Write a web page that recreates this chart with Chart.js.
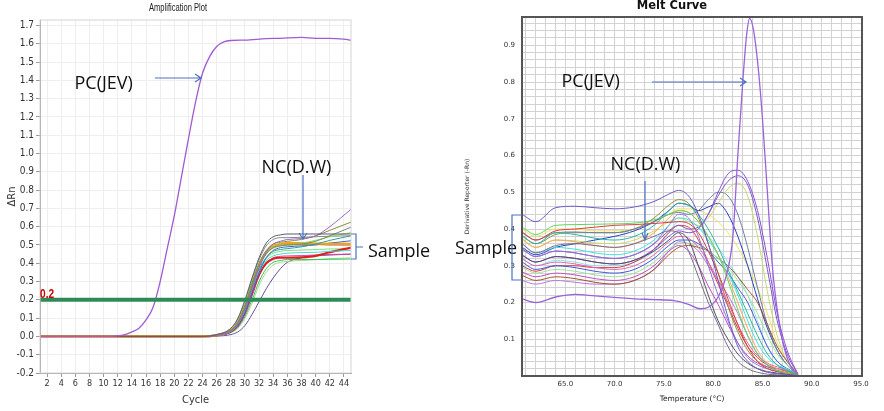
<!DOCTYPE html>
<html>
<head>
<meta charset="utf-8">
<script src="https://cdn.jsdelivr.net/npm/chart.js@4.4.0/dist/chart.umd.min.js"></script>
<style>
  body { margin: 0; background: #fff; width: 884px; height: 411px; position: relative; overflow: hidden; }
  canvas { position: absolute; top: 0; }
  #amp { left: 0; }
  #melt { left: 440px; }
  .lbl { position: absolute; font-family: 'Open Sans', 'Noto Sans', sans-serif; font-size: 18px; line-height: 18px; color: #111; white-space: nowrap; }
  .ttl { position: absolute; white-space: nowrap; transform-origin: center; }
</style>
</head>
<body>
<canvas id="amp" width="440" height="411"></canvas>
<canvas id="melt" width="444" height="411"></canvas>

<div class="ttl" style="left:178px; top:2px; font: 10.5px 'Liberation Sans', Arial, sans-serif; line-height:10.5px; color:#222; transform: translateX(-50%) scaleX(0.72);">Amplification Plot</div>
<div class="ttl" style="left:672px; top:0px; font: bold 11.5px 'DejaVu Sans', sans-serif; line-height:11.5px; color:#111; transform: translateX(-50%);">Melt Curve</div>
<div class="ttl" style="left:40px; top:286.5px; font: bold 13.5px 'Liberation Sans', Arial, sans-serif; line-height:13.5px; color:#cc0000; transform-origin: left; transform: scaleX(0.75);">0.2</div>

<div class="lbl" style="left:74.5px; top:73px;">PC(JEV)</div>
<div class="lbl" style="left:261.5px; top:157px;">NC(D.W)</div>
<div class="lbl" style="left:368px; top:241px;">Sample</div>
<div class="lbl" style="left:561.5px; top:71px;">PC(JEV)</div>
<div class="lbl" style="left:610.5px; top:154px;">NC(D.W)</div>
<div class="lbl" style="left:455px; top:237.5px;">Sample</div>

<svg width="884" height="411" style="position:absolute; left:0; top:0;" fill="none" stroke="#4a72c4" stroke-width="1.2">
  <path d="M155 78H201M195 74L201 78L195 82"/>
  <path d="M303 175V239M299 233L303 239L307 233"/>
  <path d="M351 234H356V259H351M356 247H363"/>
  <path d="M652 82H746M740 78L746 82L740 86"/>
  <path d="M645 181V240M642 233L645 240L648 233"/>
  <path d="M522 215H512V280H522"/>
</svg>

<script>
// ---------- Amplification plot data ----------
const ampYTicks = [-0.2, -0.1, 0.0, 0.1, 0.2, 0.3, 0.4, 0.5, 0.6, 0.7, 0.8, 0.9, 1.0, 1.1, 1.2, 1.3, 1.4, 1.5, 1.6, 1.7];
const ampXTicks = [2, 4, 6, 8, 10, 12, 14, 16, 18, 20, 22, 24, 26, 28, 30, 32, 34, 36, 38, 40, 42, 44];
const threshold = 0.2;

const pcCycles = [1, 5, 10, 12, 13, 14, 15, 16, 17, 18, 19, 20, 21, 22, 23, 24, 25, 26, 27, 28, 30, 33, 35, 38, 40, 42, 44, 45];
const pcAmp = [0, 0, 0, 0.003, 0.01, 0.025, 0.045, 0.09, 0.16, 0.3, 0.48, 0.66, 0.87, 1.08, 1.28, 1.44, 1.53, 1.585, 1.61, 1.618, 1.62, 1.628, 1.63, 1.635, 1.63, 1.63, 1.625, 1.62];

const ampCycles = [1, 24, 26, 28, 29, 30, 31, 32, 33, 34, 35, 36, 38, 40, 42, 45];
const s01 = [0, 0, 0.01, 0.045, 0.1, 0.2, 0.32, 0.43, 0.51, 0.545, 0.555, 0.56, 0.56, 0.56, 0.56, 0.56];
const s02 = [0, 0, 0.006, 0.03, 0.07, 0.15, 0.26, 0.38, 0.46, 0.505, 0.52, 0.53, 0.535, 0.55, 0.6, 0.695];
const s03 = [0, 0, 0.008, 0.035, 0.08, 0.17, 0.29, 0.4, 0.47, 0.505, 0.515, 0.52, 0.53, 0.55, 0.58, 0.625];
const s04 = [0, 0, 0.007, 0.033, 0.075, 0.16, 0.28, 0.38, 0.45, 0.485, 0.495, 0.5, 0.505, 0.52, 0.55, 0.597];
const s05 = [0, 0, 0.009, 0.038, 0.085, 0.18, 0.3, 0.4, 0.46, 0.49, 0.5, 0.5, 0.51, 0.525, 0.545, 0.568];
const s06 = [0, 0, 0.006, 0.03, 0.07, 0.15, 0.27, 0.37, 0.43, 0.465, 0.475, 0.48, 0.49, 0.505, 0.525, 0.55];
const s07 = [0, 0, 0.007, 0.032, 0.075, 0.16, 0.28, 0.39, 0.46, 0.495, 0.505, 0.51, 0.51, 0.508, 0.506, 0.505];
const s08 = [0, 0, 0.008, 0.035, 0.08, 0.17, 0.29, 0.39, 0.46, 0.49, 0.5, 0.505, 0.505, 0.503, 0.5, 0.5];
const s09 = [0, 0, 0.005, 0.025, 0.06, 0.13, 0.24, 0.35, 0.43, 0.47, 0.485, 0.49, 0.495, 0.5, 0.51, 0.523];
const s10 = [0, 0, 0.006, 0.028, 0.065, 0.14, 0.25, 0.35, 0.415, 0.44, 0.45, 0.455, 0.458, 0.46, 0.465, 0.47];
const s11 = [0, 0, 0.006, 0.028, 0.063, 0.135, 0.24, 0.34, 0.4, 0.425, 0.43, 0.43, 0.432, 0.44, 0.46, 0.486];
const s12 = [0, 0, 0.005, 0.024, 0.055, 0.12, 0.22, 0.33, 0.4, 0.43, 0.438, 0.44, 0.442, 0.445, 0.448, 0.45];
const s13 = [0, 0, 0.004, 0.022, 0.05, 0.11, 0.2, 0.3, 0.37, 0.405, 0.415, 0.42, 0.42, 0.42, 0.422, 0.423];
const s14 = [0, 0, 0.004, 0.02, 0.045, 0.1, 0.18, 0.28, 0.35, 0.39, 0.405, 0.41, 0.415, 0.42, 0.425, 0.43];
const s15 = [0, 0, 0.002, 0.01, 0.025, 0.06, 0.12, 0.19, 0.26, 0.32, 0.37, 0.405, 0.43, 0.44, 0.445, 0.45];
const s16 = [0, 0, 0.008, 0.035, 0.08, 0.17, 0.29, 0.39, 0.455, 0.485, 0.495, 0.5, 0.502, 0.505, 0.508, 0.51];
const s17 = [0, 0, 0.01, 0.042, 0.095, 0.19, 0.31, 0.42, 0.495, 0.53, 0.54, 0.54, 0.542, 0.545, 0.548, 0.55];
const s18 = [0, 0, 0.006, 0.03, 0.068, 0.145, 0.26, 0.36, 0.425, 0.455, 0.465, 0.47, 0.472, 0.475, 0.478, 0.48];

// ---------- Melt curve data ----------
const meltXLabels = [65, 70, 75, 80, 85, 90, 95];
const meltYLabels = [0.1, 0.2, 0.3, 0.4, 0.5, 0.6, 0.7, 0.8, 0.9];

const pcMeltTemps = [60.6, 62, 64, 66, 68, 70, 72, 74, 76, 77.5, 78.7, 79.5, 80.5, 81.3, 82, 82.5, 83, 83.4, 83.7, 84.1, 84.6, 85, 85.5, 86, 86.5, 87, 87.5, 88, 88.6];
const pcMelt = [0.21, 0.2, 0.215, 0.222, 0.218, 0.214, 0.21, 0.208, 0.205, 0.195, 0.183, 0.187, 0.215, 0.27, 0.38, 0.6, 0.8, 0.93, 0.973, 0.94, 0.83, 0.7, 0.5, 0.3, 0.18, 0.1, 0.05, 0.02, 0.005];

const meltTemps = [60.6, 62, 64, 66, 68, 70, 72, 74, 75.5, 76.5, 77.5, 78.5, 79.5, 80.5, 81.5, 82.5, 83.5, 84.5, 85.5, 86.5, 87.5, 88.6];
const m01 = [0.44, 0.42, 0.458, 0.462, 0.458, 0.455, 0.46, 0.475, 0.495, 0.505, 0.49, 0.44, 0.36, 0.26, 0.16, 0.08, 0.04, 0.02, 0.01, 0.006, 0.004, 0.002];
const m02 = [0.36, 0.335, 0.355, 0.36, 0.355, 0.35, 0.36, 0.38, 0.395, 0.39, 0.34, 0.27, 0.2, 0.14, 0.08, 0.04, 0.02, 0.01, 0.005, 0.003, 0.002, 0.001];
const m03 = [0.405, 0.385, 0.41, 0.412, 0.413, 0.414, 0.416, 0.425, 0.44, 0.45, 0.445, 0.42, 0.38, 0.33, 0.26, 0.18, 0.11, 0.06, 0.03, 0.015, 0.008, 0.003];
const m04 = [0.392, 0.37, 0.395, 0.4, 0.405, 0.41, 0.412, 0.415, 0.418, 0.42, 0.415, 0.39, 0.34, 0.28, 0.21, 0.14, 0.08, 0.04, 0.02, 0.012, 0.008, 0.003];
const m05 = [0.383, 0.36, 0.39, 0.385, 0.375, 0.37, 0.38, 0.41, 0.45, 0.47, 0.465, 0.44, 0.4, 0.35, 0.29, 0.23, 0.17, 0.11, 0.06, 0.03, 0.015, 0.004];
const m06 = [0.374, 0.35, 0.37, 0.365, 0.355, 0.35, 0.36, 0.39, 0.43, 0.45, 0.445, 0.42, 0.38, 0.33, 0.27, 0.2, 0.13, 0.07, 0.035, 0.02, 0.01, 0.003];
const m07 = [0.36, 0.335, 0.35, 0.345, 0.335, 0.33, 0.34, 0.37, 0.41, 0.43, 0.425, 0.405, 0.37, 0.33, 0.28, 0.22, 0.15, 0.09, 0.05, 0.03, 0.02, 0.005];
const m08 = [0.346, 0.325, 0.34, 0.335, 0.325, 0.32, 0.33, 0.36, 0.41, 0.44, 0.43, 0.38, 0.3, 0.22, 0.15, 0.09, 0.05, 0.03, 0.02, 0.012, 0.008, 0.003];
const m09 = [0.328, 0.31, 0.325, 0.32, 0.31, 0.305, 0.315, 0.34, 0.37, 0.39, 0.37, 0.3, 0.22, 0.15, 0.1, 0.06, 0.035, 0.02, 0.012, 0.008, 0.005, 0.002];
const m10 = [0.319, 0.3, 0.31, 0.305, 0.295, 0.29, 0.3, 0.33, 0.365, 0.38, 0.375, 0.35, 0.31, 0.26, 0.2, 0.14, 0.09, 0.055, 0.035, 0.025, 0.018, 0.005];
const m11 = [0.31, 0.29, 0.3, 0.295, 0.285, 0.28, 0.29, 0.32, 0.355, 0.37, 0.37, 0.36, 0.34, 0.31, 0.28, 0.24, 0.2, 0.14, 0.08, 0.04, 0.02, 0.005];
const m12 = [0.296, 0.28, 0.29, 0.285, 0.275, 0.27, 0.28, 0.31, 0.345, 0.36, 0.36, 0.355, 0.34, 0.32, 0.295, 0.26, 0.22, 0.17, 0.11, 0.06, 0.03, 0.005];
const m13 = [0.283, 0.27, 0.28, 0.275, 0.265, 0.26, 0.27, 0.3, 0.34, 0.355, 0.34, 0.3, 0.245, 0.195, 0.14, 0.09, 0.055, 0.035, 0.025, 0.02, 0.015, 0.004];
const m14 = [0.274, 0.26, 0.27, 0.265, 0.255, 0.25, 0.26, 0.29, 0.33, 0.35, 0.355, 0.35, 0.34, 0.32, 0.3, 0.27, 0.235, 0.2, 0.14, 0.08, 0.04, 0.005];
const m15 = [0.26, 0.25, 0.26, 0.255, 0.25, 0.25, 0.26, 0.29, 0.34, 0.365, 0.36, 0.34, 0.3, 0.26, 0.22, 0.17, 0.11, 0.06, 0.03, 0.015, 0.008, 0.002];
const m16 = [0.33, 0.31, 0.325, 0.32, 0.31, 0.305, 0.315, 0.345, 0.38, 0.395, 0.39, 0.4, 0.44, 0.5, 0.55, 0.56, 0.53, 0.45, 0.32, 0.17, 0.07, 0.005];
const m17 = [0.345, 0.325, 0.34, 0.335, 0.325, 0.32, 0.33, 0.36, 0.395, 0.41, 0.4, 0.405, 0.44, 0.49, 0.53, 0.545, 0.52, 0.43, 0.29, 0.15, 0.06, 0.005];
const m18 = [0.37, 0.35, 0.37, 0.368, 0.362, 0.36, 0.37, 0.395, 0.42, 0.43, 0.42, 0.41, 0.43, 0.47, 0.51, 0.525, 0.49, 0.38, 0.23, 0.11, 0.04, 0.004];
const m19 = [0.39, 0.37, 0.39, 0.392, 0.39, 0.39, 0.4, 0.42, 0.44, 0.445, 0.44, 0.45, 0.48, 0.5, 0.49, 0.44, 0.35, 0.24, 0.14, 0.07, 0.03, 0.004];
const m20 = [0.35, 0.33, 0.35, 0.36, 0.37, 0.38, 0.395, 0.42, 0.45, 0.47, 0.465, 0.45, 0.46, 0.47, 0.44, 0.38, 0.3, 0.21, 0.13, 0.07, 0.03, 0.004];
const m21 = [0.38, 0.36, 0.385, 0.39, 0.39, 0.39, 0.4, 0.43, 0.465, 0.48, 0.47, 0.43, 0.36, 0.28, 0.19, 0.12, 0.07, 0.04, 0.025, 0.015, 0.01, 0.003];
const m22 = [0.3, 0.285, 0.3, 0.3, 0.295, 0.295, 0.31, 0.345, 0.39, 0.41, 0.405, 0.37, 0.31, 0.25, 0.19, 0.13, 0.08, 0.05, 0.03, 0.02, 0.012, 0.003];
const m23 = [0.32, 0.3, 0.315, 0.31, 0.3, 0.3, 0.31, 0.34, 0.39, 0.42, 0.42, 0.405, 0.38, 0.35, 0.31, 0.27, 0.22, 0.15, 0.08, 0.04, 0.02, 0.004];
const m24 = [0.4, 0.38, 0.4, 0.4, 0.395, 0.395, 0.4, 0.42, 0.44, 0.455, 0.455, 0.45, 0.44, 0.42, 0.39, 0.35, 0.3, 0.24, 0.17, 0.09, 0.04, 0.004];

// colours (style only)
const sampleSeries = [s01, s02, s03, s04, s05, s06, s07, s08, s09, s10, s11, s12, s13, s14, s15, s16, s17, s18];
const sampleColors = ['#5a5a6e', '#9966cc', '#8c8c3c', '#6f8f6f', '#90d050', '#2aa198', '#f0a020', '#8b5a2b', '#4060d0',
  '#40e0d0', '#e02020', '#e040a0', '#30c060', '#a0e080', '#6a4c9c', '#e0d040', '#888888', '#7ee07e'];
const sampleWidths = [1, 1, 1, 1, 1, 1, 2.2, 1, 1, 1, 2.2, 1, 1, 1, 1, 1.5, 1, 1];

const meltSeries = [m01, m02, m03, m04, m05, m06, m07, m08, m09, m10, m11, m12, m13, m14, m15, m16, m17, m18, m19, m20, m21, m22, m23, m24];
const meltColors = ['#6a5acd', '#7b6b8f', '#5cd65c', '#e03c3c', '#2bb5a0', '#f4a460', '#40e0e0', '#9370db', '#505060', '#e066b0',
  '#3b5bdb', '#9be39b', '#c04fc0', '#a0522d', '#b07ad8', '#8a4fd8', '#7e57c2', '#c8d870', '#6b7fa8', '#2040c0',
  '#8f8f40', '#d43f3f', '#8fe0f0', '#f0e060'];

const toPts = (xs, ys) => xs.map((x, i) => ({ x, y: ys[i] }));

const frame = {
  id: 'frame',
  afterDraw(chart, args, opts) {
    const { ctx, chartArea: a } = chart;
    ctx.save();
    ctx.strokeStyle = opts.color;
    ctx.lineWidth = opts.width;
    ctx.strokeRect(a.left, a.top, a.right - a.left, a.bottom - a.top);
    ctx.restore();
  }
};

const narrow = "'Liberation Sans Narrow', 'DejaVu Sans Condensed', 'Liberation Sans', Arial, sans-serif";

// ---------- Amplification chart ----------
const ampDatasets = [
  { data: [{ x: 1, y: threshold }, { x: 45, y: threshold }], borderColor: '#2e8b57', borderWidth: 4 },
  { data: toPts(pcCycles, pcAmp), borderColor: '#a15bd0', borderWidth: 1.3, cubicInterpolationMode: 'monotone' }
];
sampleSeries.forEach((s, i) => ampDatasets.push({
  data: toPts(ampCycles, s), borderColor: sampleColors[i], borderWidth: sampleWidths[i], cubicInterpolationMode: 'monotone'
}));

new Chart(document.getElementById('amp'), {
  type: 'line',
  data: { datasets: ampDatasets },
  options: {
    responsive: false, animation: false, events: [],
    layout: { padding: { top: 20, right: 89, left: 0, bottom: 0 } },
    elements: { point: { radius: 0 } },
    plugins: { legend: { display: false }, tooltip: { enabled: false }, frame: { color: '#d4d4d4', width: 1 } },
    scales: {
      x: {
        type: 'linear', min: 1, max: 45,
        afterBuildTicks: s => { s.ticks = ampXTicks.map(v => ({ value: v })); },
        afterFit: s => { s.height = 38; },
        ticks: { autoSkip: false, maxRotation: 0, padding: 1, color: '#333', font: { family: narrow, size: 9 } },
        grid: { color: '#eeeeee', tickColor: '#999', tickLength: 4 },
        border: { color: '#999' },
        title: { display: true, text: 'Cycle', color: '#333', font: { family: narrow, size: 11 }, padding: { top: 0, bottom: 4 } }
      },
      y: {
        min: -0.2, max: 1.73,
        afterBuildTicks: s => { s.ticks = ampYTicks.map(v => ({ value: v })); },
        afterFit: s => { s.width = 40; },
        ticks: { padding: 2, color: '#333', font: { family: narrow, size: 10 }, callback: v => v.toFixed(1) },
        grid: { color: '#eeeeee', tickColor: '#999', tickLength: 4 },
        border: { color: '#999' },
        title: { display: true, text: 'ΔRn', color: '#333', font: { family: narrow, size: 11 }, padding: { top: 6, bottom: 0 } }
      }
    }
  },
  plugins: [frame]
});

// ---------- Melt chart ----------
const meltDatasets = [
  { data: toPts(pcMeltTemps, pcMelt), borderColor: '#9a63dc', borderWidth: 1.3, cubicInterpolationMode: 'monotone' }
];
meltSeries.forEach((s, i) => meltDatasets.push({
  data: toPts(meltTemps, s), borderColor: meltColors[i], borderWidth: 1, cubicInterpolationMode: 'monotone'
}));

new Chart(document.getElementById('melt'), {
  type: 'line',
  data: { datasets: meltDatasets },
  options: {
    responsive: false, animation: false, events: [],
    layout: { padding: { top: 17, right: 22, left: 0, bottom: 0 } },
    elements: { point: { radius: 0 } },
    plugins: { legend: { display: false }, tooltip: { enabled: false }, frame: { color: '#555', width: 2 } },
    scales: {
      x: {
        type: 'linear', min: 60.6, max: 95.1,
        afterBuildTicks: s => {
          const t = [];
          for (let v = 61; v <= 95; v++) t.push({ value: v });
          s.ticks = t;
        },
        afterFit: s => { s.height = 35; },
        ticks: {
          autoSkip: false, maxRotation: 0, padding: 4, color: '#333', font: { family: 'DejaVu Sans', size: 7 },
          callback: v => meltXLabels.includes(v) ? v.toFixed(1) : ''
        },
        grid: { color: '#d2d2d2', drawTicks: false },
        border: { color: '#555', width: 2 },
        title: { display: true, text: 'Temperature (°C)', color: '#222', font: { family: 'DejaVu Sans', size: 7.5 }, padding: { top: 0, bottom: 7.5 } }
      },
      y: {
        min: 0, max: 0.977,
        afterBuildTicks: s => {
          const t = [];
          for (let k = 1; k <= 48; k++) t.push({ value: k / 50 });
          s.ticks = t;
        },
        afterFit: s => { s.width = 82; },
        ticks: {
          autoSkip: false, padding: 7, color: '#333', font: { family: 'DejaVu Sans', size: 7 },
          callback: v => meltYLabels.some(l => Math.abs(l - v) < 1e-6) ? v.toFixed(1) : ''
        },
        grid: { color: '#d2d2d2', drawTicks: false },
        border: { color: '#555', width: 2 },
        title: { display: true, text: 'Derivative Reporter (-Rn)', color: '#333', font: { family: 'DejaVu Sans', size: 6 }, padding: { top: 24, bottom: 0 } }
      }
    }
  },
  plugins: [frame]
});
</script>
</body>
</html>
